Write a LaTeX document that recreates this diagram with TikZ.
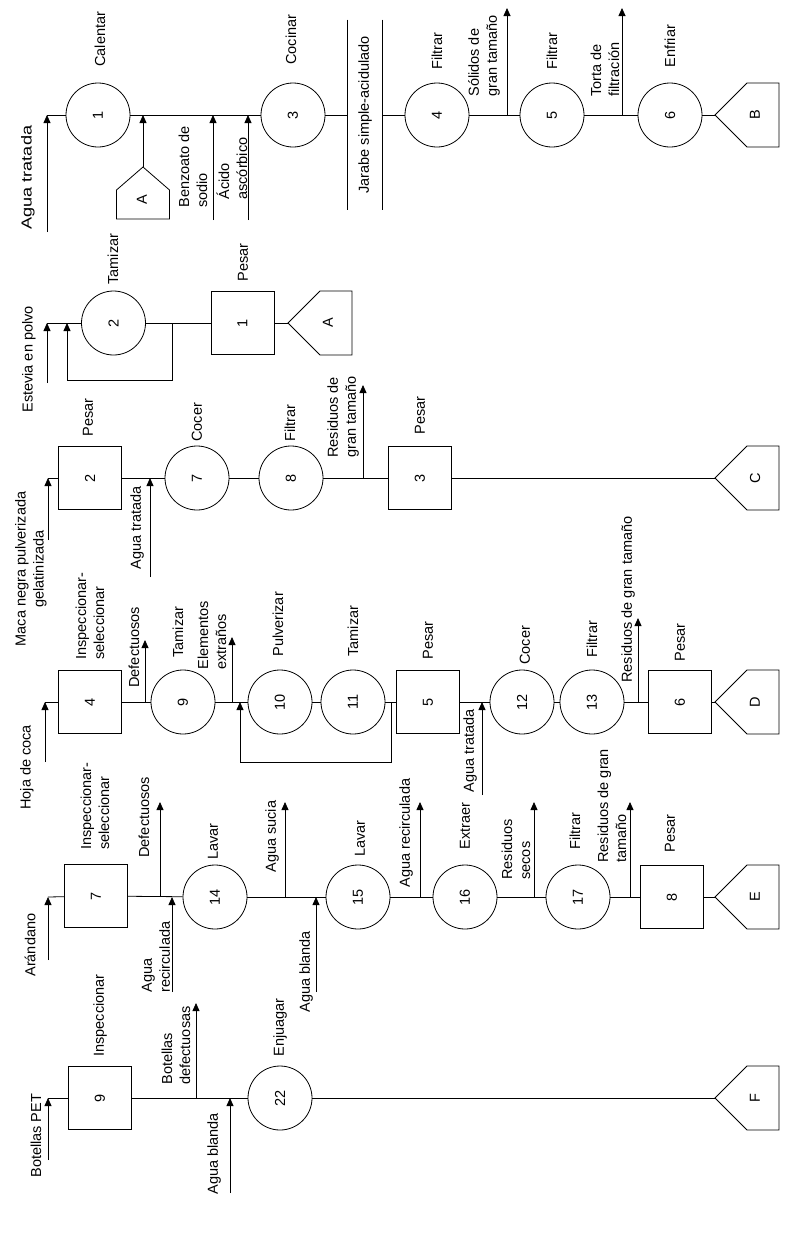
\documentclass[tikz,border=0pt]{standalone}
\usepackage{fontspec}
\usepackage{graphicx}
\setmainfont{Liberation Sans}
\usetikzlibrary{arrows.meta}
\begin{document}
\begin{tikzpicture}[x=1pt,y=-1pt,
  font=\fontsize{14.5}{18}\selectfont,
  every path/.style={line width=0.8pt},
  proc/.style={circle, draw, minimum size=64pt, inner sep=0pt},
  op/.style={rectangle, draw, minimum size=63pt, inner sep=0pt},
  lbl/.style={rotate=90, anchor=west, inner sep=0pt, align=left},
  arr/.style={-{Triangle[length=8pt,width=7pt]}},
  cname/.style={inner sep=0pt}]
\path[use as bounding box] (0,0) rectangle (791,1237);

%%%%%%%%%%%%%%%% Row 1
\coordinate (i1) at (47,232);
\node[lbl] (l1) at (28,230) {\scalebox{1.25}[1]{Agua tratada}};
\node[proc] (c1) at (98,115) {\rotatebox{90}{1}};
\node[lbl] (lc1) at (100,67) {Calentar};
\coordinate (A1t) at (143,167);
\draw (A1t) -- ++(-26.5,23) -- ++(0,29) -- ++(53,0) -- ++(0,-29) -- cycle;
\node[cname] (A1) at (142,200) {\rotatebox{90}{A}};
\coordinate (i2) at (213,220);
\node[lbl] (l2) at (193,208) {Benzoato de\\sodio};
\coordinate (i3) at (248,220);
\node[lbl] (l3) at (232,200) {Ácido\\ascórbico};
\node[proc] (c3) at (293,115) {\rotatebox{90}{3}};
\node[lbl] (lc3) at (291,65) {Cocinar};
\node[minimum width=34pt, minimum height=190pt, inner sep=0pt] (jar) at (365,115) {\rotatebox{90}{Jarabe simple-acidulado}};
\draw (jar.north west) -- (jar.south west);
\draw (jar.north east) -- (jar.south east);
\node[proc] (c4) at (437,115) {\rotatebox{90}{4}};
\node[lbl] (lc4) at (437,70) {Filtrar};
\coordinate (o1) at (507,8);
\node[lbl] (lo1) at (484,97) {Sólidos de\\gran tamaño};
\node[proc] (c5) at (552,115) {\rotatebox{90}{5}};
\node[lbl] (lc5) at (552,70) {Filtrar};
\coordinate (o2) at (622,8);
\node[lbl] (lo2) at (605,97) {Torta de\\filtración};
\node[proc] (c6) at (670,115) {\rotatebox{90}{6}};
\node[lbl] (lc6) at (670,68) {Enfriar};
\coordinate (Bt) at (715,115);
\draw (Bt) -- ++(32,-32) -- ++(32,0) -- ++(0,64) -- ++(-32,0) -- cycle;
\node[cname] (B) at (755,115) {\rotatebox{90}{B}};

\draw[arr] (i1) -- (i1 |- c1);
\draw (i1 |- c1) -- (c1);
\draw (c1) -- (c3);
\draw[arr] (A1t) -- (A1t |- c1);
\draw[arr] (i2) -- (i2 |- c1);
\draw[arr] (i3) -- (i3 |- c1);
\draw (c3) -- (jar.west);
\draw (jar.east) -- (c4);
\draw (c4) -- (c5);
\draw[arr] (o1 |- c4) -- (o1);
\draw (c5) -- (c6);
\draw[arr] (o2 |- c5) -- (o2);
\draw (c6) -- (Bt);

%%%%%%%%%%%%%%%% Row 2
\coordinate (i4) at (47,383);
\node[lbl] (l4) at (29,413) {Estevia en polvo};
\node[proc] (c2) at (113.5,323) {\rotatebox{90}{2}};
\node[lbl] (lc2) at (113,285) {Tamizar};
\node[op] (s1) at (242.5,323) {\rotatebox{90}{1}};
\node[lbl] (ls1) at (243,282) {Pesar};
\coordinate (A2t) at (288,323);
\draw (A2t) -- ++(32,-32) -- ++(32,0) -- ++(0,64) -- ++(-32,0) -- cycle;
\node[cname] (A2) at (328,323) {\rotatebox{90}{A}};
\coordinate (r1) at (172,323);
\coordinate (lp1) at (172,380);
\coordinate (lp2) at (67,380);

\draw[arr] (i4) -- (i4 |- c2);
\draw (i4 |- c2) -- (c2);
\draw (c2) -- (s1);
\draw (s1) -- (A2t);
\draw[arr] (r1) -- (lp1) -- (lp2) -- (lp2 |- c2);

%%%%%%%%%%%%%%%% Row 3
\coordinate (i5) at (48,540);
\node[rotate=90, anchor=center, inner sep=0pt, align=center] (l5) at (31,569) {Maca negra pulverizada\\gelatinizada};
\node[op] (s2) at (90,478) {\rotatebox{90}{2}};
\node[lbl] (ls2) at (88,437) {Pesar};
\coordinate (i6) at (150,577);
\node[lbl] (l6) at (137,570) {Agua tratada};
\node[proc] (c7) at (197,478) {\rotatebox{90}{7}};
\node[lbl] (lc7) at (197,442) {Cocer};
\node[proc] (c8) at (291,478) {\rotatebox{90}{8}};
\node[lbl] (lc8) at (290,442) {Filtrar};
\coordinate (o3) at (363,385);
\node[lbl] (lo3) at (343,458) {Residuos de\\gran tamaño};
\node[op] (s3) at (420,478) {\rotatebox{90}{3}};
\node[lbl] (ls3) at (420,435) {Pesar};
\coordinate (Ct) at (715,478);
\draw (Ct) -- ++(32,-32) -- ++(32,0) -- ++(0,64) -- ++(-32,0) -- cycle;
\node[cname] (C) at (755,478) {\rotatebox{90}{C}};

\draw[arr] (i5) -- (i5 |- s2);
\draw (i5 |- s2) -- (s2);
\draw (s2) -- (c7);
\draw[arr] (i6) -- (i6 |- s2);
\draw (c7) -- (c8);
\draw (c8) -- (s3);
\draw[arr] (o3 |- c8) -- (o3);
\draw (s3) -- (Ct);

%%%%%%%%%%%%%%%% Row 4
\coordinate (i7) at (45,762);
\node[lbl] (l7) at (27,810) {Hoja de coca};
\node[op] (s4) at (90,702) {\rotatebox{90}{4}};
\node[lbl] (ls4) at (90,660) {Inspeccionar-\\seleccionar};
\coordinate (o4) at (145,640);
\node[lbl] (lo4) at (134,688) {Defectuosos};
\node[proc] (c9) at (183,702) {\rotatebox{90}{9}};
\node[lbl] (lc9) at (178,658) {Tamizar};
\coordinate (o5) at (232,637);
\node[lbl] (lo5) at (212,670) {Elementos\\extraños};
\node[proc] (c10) at (280,702) {\rotatebox{90}{10}};
\node[lbl] (lc10) at (278,657) {Pulverizar};
\node[proc] (c11) at (353,702) {\rotatebox{90}{11}};
\node[lbl] (lc11) at (353,657) {Tamizar};
\node[op] (s5) at (428,702) {\rotatebox{90}{5}};
\node[lbl] (ls5) at (428,660) {Pesar};
\coordinate (i8) at (482,795);
\node[lbl] (l8) at (470,793) {Agua tratada};
\node[proc] (c12) at (522,702) {\rotatebox{90}{12}};
\node[lbl] (lc12) at (525,665) {Cocer};
\node[proc] (c13) at (592,702) {\rotatebox{90}{13}};
\node[lbl] (lc13) at (592,658) {Filtrar};
\coordinate (o6) at (638,618);
\node[lbl] (lo6) at (628,683) {Residuos de gran tamaño};
\node[op] (s6) at (680,702) {\rotatebox{90}{6}};
\node[lbl] (ls6) at (680,662) {Pesar};
\coordinate (Dt) at (715,702);
\draw (Dt) -- ++(32,-32) -- ++(32,0) -- ++(0,64) -- ++(-32,0) -- cycle;
\node[cname] (D) at (755,702) {\rotatebox{90}{D}};
\coordinate (r2) at (391,702);
\coordinate (lp3) at (391,762);
\coordinate (lp4) at (240,762);

\draw[arr] (i7) -- (i7 |- s4);
\draw (i7 |- s4) -- (s4);
\draw (s4) -- (c9);
\draw[arr] (o4 |- s4) -- (o4);
\draw (c9) -- (c10);
\draw[arr] (o5 |- c9) -- (o5);
\draw (c10) -- (c11);
\draw (c11) -- (s5);
\draw[arr] (r2) -- (lp3) -- (lp4) -- (lp4 |- c10);
\draw (s5) -- (c12);
\draw[arr] (i8) -- (i8 |- s5);
\draw (c12) -- (c13);
\draw (c13) -- (s6);
\draw[arr] (o6 |- c13) -- (o6);
\draw (s6) -- (Dt);

%%%%%%%%%%%%%%%% Row 5
\coordinate (i9) at (48,960);
\node[lbl] (l9) at (30,977) {Arándano};
\node[op] (s7) at (96,896) {\rotatebox{90}{7}};
\node[lbl] (ls7) at (95,850) {Inspeccionar-\\seleccionar};
\coordinate (o7) at (160,802);
\node[lbl] (lo7) at (144,858) {Defectuosos};
\coordinate (i10) at (172,992);
\node[lbl] (l10) at (156,993) {Agua\\recirculada};
\node[proc] (c14) at (215,897) {\rotatebox{90}{14}};
\node[lbl] (lc14) at (213,860) {Lavar};
\coordinate (o8) at (285,802);
\node[lbl] (lo8) at (272,873) {Agua sucia};
\coordinate (i11) at (316,992);
\node[lbl] (l11) at (306,1013) {Agua blanda};
\node[proc] (c15) at (358,897) {\rotatebox{90}{15}};
\node[lbl] (lc15) at (360,857) {Lavar};
\coordinate (o9) at (420,802);
\node[lbl] (lo9) at (406,888) {Agua recirculada};
\node[proc] (c16) at (465,897) {\rotatebox{90}{16}};
\node[lbl] (lc16) at (465,850) {Extraer};
\coordinate (o10) at (534,802);
\node[lbl] (lo10) at (516,880) {Residuos\\secos};
\node[proc] (c17) at (578,897) {\rotatebox{90}{17}};
\node[lbl] (lc17) at (575,850) {Filtrar};
\coordinate (o11) at (630,802);
\node[lbl] (lo11) at (612,863) {Residuos de gran\\tamaño};
\node[op] (s8) at (672,897) {\rotatebox{90}{8}};
\node[lbl] (ls8) at (670,853) {Pesar};
\coordinate (Et) at (715,897);
\draw (Et) -- ++(32,-32) -- ++(32,0) -- ++(0,64) -- ++(-32,0) -- cycle;
\node[cname] (E) at (755,897) {\rotatebox{90}{E}};

\draw[arr] (i9) -- (i9 |- c14);
\draw (i9 |- c14) -- (s7);
\draw (s7) -- (c14);
\draw[arr] (o7 |- c14) -- (o7);
\draw[arr] (i10) -- (i10 |- c14);
\draw (c14) -- (c15);
\draw[arr] (o8 |- c14) -- (o8);
\draw[arr] (i11) -- (i11 |- c14);
\draw (c15) -- (c16);
\draw[arr] (o9 |- c15) -- (o9);
\draw (c16) -- (c17);
\draw[arr] (o10 |- c16) -- (o10);
\draw (c17) -- (s8);
\draw[arr] (o11 |- c17) -- (o11);
\draw (s8) -- (Et);

%%%%%%%%%%%%%%%% Row 6
\coordinate (i12) at (48,1160);
\node[lbl] (l12) at (36,1178) {Botellas PET};
\node[op] (s9) at (100,1098) {\rotatebox{90}{9}};
\node[lbl] (ls9) at (100,1057) {Inspeccionar};
\coordinate (o12) at (196,1003);
\node[lbl] (lo12) at (176,1085) {Botellas\\defectuosas};
\coordinate (i13) at (230,1193);
\node[lbl] (l13) at (214,1195) {Agua blanda};
\node[proc] (c22) at (280,1098) {\rotatebox{90}{22}};
\node[lbl] (lc22) at (280,1057) {Enjuagar};
\coordinate (Ft) at (715,1098);
\draw (Ft) -- ++(32,-32) -- ++(32,0) -- ++(0,64) -- ++(-32,0) -- cycle;
\node[cname] (F) at (755,1098) {\rotatebox{90}{F}};

\draw[arr] (i12) -- (i12 |- s9);
\draw (i12 |- s9) -- (s9);
\draw (s9) -- (c22);
\draw[arr] (o12 |- s9) -- (o12);
\draw[arr] (i13) -- (i13 |- s9);
\draw (c22) -- (Ft);
\end{tikzpicture}
\end{document}
